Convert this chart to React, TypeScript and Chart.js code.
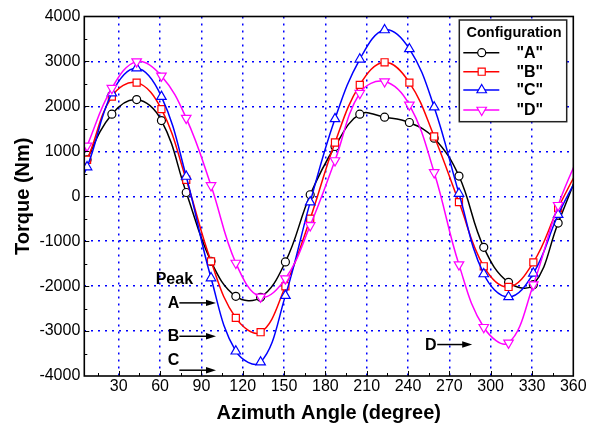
import React, { useEffect, useRef } from "react";
import { Chart, registerables } from "chart.js";

Chart.register(...registerables);

// ---- data ----
const angles = [-11, 7, 25, 43, 61, 79, 97, 115, 133, 151, 169, 187, 205, 223, 241, 259, 277, 295, 313, 331, 349, 367];
const seriesA = [-596, 811, 1827, 2151, 1684, 84, -1449, -2226, -2250, -1462, 33, 1107, 1826, 1759, 1641, 1293, 450, -1137, -1915, -1967, -596, 811];
const seriesB = [-263, 811, 2218, 2529, 1938, 367, -1449, -2707, -3026, -2004, -500, 1196, 2478, 2981, 2529, 1330, -130, -1559, -2019, -1471, -263, 811];
const seriesC = [-411, 650, 2293, 2849, 2218, 440, -1820, -3449, -3693, -2211, -130, 1722, 3048, 3700, 3278, 1982, 60, -1730, -2241, -1715, -411, 650];
const seriesD = [-200, 1122, 2404, 2996, 2678, 1738, 240, -1485, -2240, -1833, -650, 796, 2293, 2552, 2033, 530, -1522, -2915, -3263, -1967, -200, 1122];
const seriesNames = ['"A"', '"B"', '"C"', '"D"'];
const xTickLabels = [30, 60, 90, 120, 150, 180, 210, 240, 270, 300, 330, 360];
const yTickLabels = [-4000, -3000, -2000, -1000, 0, 1000, 2000, 3000, 4000];
const xTitle = "Azimuth Angle (degree)";
const yTitle = "Torque (Nm)";
const legendTitle = "Configuration";
const peakTitle = "Peak";
const peakLetters = ["A", "B", "C", "D"];

// ---- styles / layout ----
const X_MIN = 5;
const X_MAX = 360;
const colors = ["#000000", "#ff0000", "#0000ff", "#ff00ff"];
const markers = ["circle", "rect", "triangle", "triangle"];
const rotations = [0, 0, 0, 180];
const radii = [4, 5, 5.5, 5.5];
const FONT = "'Liberation Sans', Arial, Helvetica, sans-serif";

// annotation placement (data coordinates)
const notes = [
  { lx: 69.7, ly: -2389, x0: 74, x1: 100.6, ay: -2373 },
  { lx: 69.7, ly: -3122, x0: 74, x1: 100.6, ay: -3116 },
  { lx: 69.7, ly: -3649, x0: 74, x1: 100.6, ay: -3871 },
  { lx: 256.5, ly: -3316, x0: 261.2, x1: 286.6, ay: -3300 },
];
const peakPos = { x: 70.4, y: -1856 };

function drawMarker(ctx: CanvasRenderingContext2D, style: string, rot: number, r: number, x: number, y: number) {
  ctx.beginPath();
  if (style === "circle") {
    ctx.arc(x, y, r, 0, Math.PI * 2);
  } else if (style === "rect") {
    const s = Math.SQRT1_2 * r;
    ctx.rect(x - s, y - s, 2 * s, 2 * s);
  } else {
    let rad = (rot * Math.PI) / 180;
    const step = (2 * Math.PI) / 3;
    ctx.moveTo(x + Math.sin(rad) * r, y - Math.cos(rad) * r);
    rad += step;
    ctx.lineTo(x + Math.sin(rad) * r, y - Math.cos(rad) * r);
    rad += step;
    ctx.lineTo(x + Math.sin(rad) * r, y - Math.cos(rad) * r);
    ctx.closePath();
  }
  ctx.fill();
  ctx.stroke();
}

const decorPlugin = {
  id: "decor",
  afterDatasetsDraw(chart: any) {
    const { ctx, chartArea: a, scales } = chart;
    const xs = scales.x;
    const ys = scales.y;
    ctx.save();
    // inward ticks
    ctx.strokeStyle = "#000";
    ctx.lineWidth = 1;
    ctx.beginPath();
    for (let v = -3500; v < 4000; v += 500) {
      const py = Math.round(ys.getPixelForValue(v)) + 0.5;
      const len = v % 1000 === 0 ? 5 : 3;
      ctx.moveTo(a.left, py);
      ctx.lineTo(a.left + len, py);
    }
    for (let v = 15; v < 360; v += 15) {
      const px = Math.round(xs.getPixelForValue(v)) + 0.5;
      const len = v % 30 === 0 ? 5 : 3;
      ctx.moveTo(px, a.bottom);
      ctx.lineTo(px, a.bottom - len);
    }
    ctx.stroke();
    // frame
    ctx.lineWidth = 1.6;
    ctx.strokeRect(a.left, a.top, a.right - a.left, a.bottom - a.top);

    // legend
    const bx = a.right - 114;
    const by = a.top + 3.5;
    const bw = 107.4;
    const bh = 101.7;
    ctx.fillStyle = "#fff";
    ctx.fillRect(bx, by, bw, bh);
    ctx.lineWidth = 1.5;
    ctx.strokeStyle = "#222";
    ctx.strokeRect(bx, by, bw, bh);
    ctx.fillStyle = "#000";
    ctx.font = `bold 14.5px ${FONT}`;
    ctx.textAlign = "center";
    ctx.textBaseline = "middle";
    ctx.fillText(legendTitle, bx + bw / 2 + 1, by + 13);
    const rowY = [32.7, 51.7, 70, 90];
    seriesNames.forEach((n, i) => {
      const yy = by + rowY[i];
      ctx.strokeStyle = colors[i];
      ctx.lineWidth = 1.5;
      ctx.beginPath();
      ctx.moveTo(bx + 4, yy);
      ctx.lineTo(bx + 40, yy);
      ctx.stroke();
      ctx.fillStyle = "#fff";
      ctx.lineWidth = 1.2;
      drawMarker(ctx, markers[i], rotations[i], radii[i], bx + 22.4, yy);
      ctx.fillStyle = "#000";
      ctx.font = `bold 16px ${FONT}`;
      ctx.fillText(n, bx + 70.5, yy + 0.5);
    });

    // peak annotations
    ctx.fillStyle = "#000";
    ctx.strokeStyle = "#000";
    ctx.font = `bold 16px ${FONT}`;
    ctx.textAlign = "center";
    ctx.textBaseline = "middle";
    ctx.fillText(peakTitle, xs.getPixelForValue(peakPos.x), ys.getPixelForValue(peakPos.y));
    notes.forEach((nt, i) => {
      ctx.fillText(peakLetters[i], xs.getPixelForValue(nt.lx), ys.getPixelForValue(nt.ly));
      const x0 = xs.getPixelForValue(nt.x0);
      const x1 = xs.getPixelForValue(nt.x1);
      const yy = ys.getPixelForValue(nt.ay);
      ctx.lineWidth = 1.5;
      ctx.beginPath();
      ctx.moveTo(x0, yy);
      ctx.lineTo(x1 - 6, yy);
      ctx.stroke();
      ctx.beginPath();
      ctx.moveTo(x1, yy);
      ctx.lineTo(x1 - 10, yy - 3.2);
      ctx.lineTo(x1 - 10, yy + 3.2);
      ctx.closePath();
      ctx.fill();
    });
    ctx.restore();
  },
};

export default function App() {
  const ref = useRef<HTMLCanvasElement>(null);
  useEffect(() => {
    const canvas = ref.current;
    if (!canvas) return;
    Chart.defaults.font.family = FONT;
    const all = [seriesA, seriesB, seriesC, seriesD];
    const datasets = all.map((vals, i) => ({
      label: seriesNames[i],
      data: angles.map((a, j) => ({ x: a, y: vals[j] })),
      borderColor: colors[i],
      backgroundColor: "#ffffff",
      borderWidth: 1.5,
      pointStyle: markers[i],
      pointRotation: rotations[i],
      pointRadius: (c: any) => {
        const v = c.raw ? c.raw.x : 0;
        return v < X_MIN || v > X_MAX ? 0 : radii[i];
      },
      pointBorderWidth: 1.2,
      pointBackgroundColor: "#ffffff",
      pointBorderColor: colors[i],
      tension: 0.4,
      order: 4 - i,
      clip: 0,
    }));
    const chart = new Chart(canvas, {
      type: "line",
      data: { datasets } as any,
      options: {
        responsive: false,
        animation: false,
        events: [],
        layout: { padding: { left: 0, right: 26.7, top: 16.5, bottom: 0 } },
        plugins: { legend: { display: false }, tooltip: { enabled: false } },
        scales: {
          x: {
            type: "linear",
            min: X_MIN,
            max: X_MAX,
            afterBuildTicks: (s: any) => {
              s.ticks = xTickLabels.map((v) => ({ value: v }));
            },
            afterFit: (s: any) => {
              s.height = 54;
            },
            grid: {
              color: (c: any) => (c.tick && (c.tick.value >= X_MAX || c.tick.value <= X_MIN) ? "rgba(0,0,0,0)" : "#0000ff"),
              lineWidth: 1.5,
              drawTicks: false,
            },
            border: { display: false, dash: [2, 5] },
            ticks: { color: "#000", font: { size: 16 }, padding: 1, maxRotation: 0, autoSkip: false, callback: (v: any) => String(v) },
            title: {
              display: true,
              text: xTitle,
              color: "#000",
              font: { size: 20, weight: "bold" },
              padding: { top: 0, bottom: 5 },
            },
          },
          y: {
            type: "linear",
            min: -4000,
            max: 4000,
            afterBuildTicks: (s: any) => {
              s.ticks = yTickLabels.map((v) => ({ value: v }));
            },
            afterFit: (s: any) => {
              s.width = 84.3;
            },
            grid: {
              color: (c: any) => (c.tick && Math.abs(c.tick.value) >= 4000 ? "rgba(0,0,0,0)" : "#0000ff"),
              lineWidth: 1.5,
              drawTicks: false,
            },
            border: { display: false, dash: [2, 5] },
            ticks: { color: "#000", font: { size: 16 }, padding: 4, callback: (v: any) => String(v) },
            title: {
              display: true,
              text: yTitle,
              color: "#000",
              font: { size: 20, weight: "bold" },
              padding: { top: 11, bottom: 0 },
            },
          },
        },
      } as any,
      plugins: [decorPlugin],
    });
    return () => chart.destroy();
  }, []);
  return (
    <div style={{ position: "absolute", left: 0, top: 0, width: 600, height: 430, background: "#fff" }}>
      <canvas ref={ref} width={600} height={430} style={{ width: 600, height: 430, display: "block" }} />
    </div>
  );
}
